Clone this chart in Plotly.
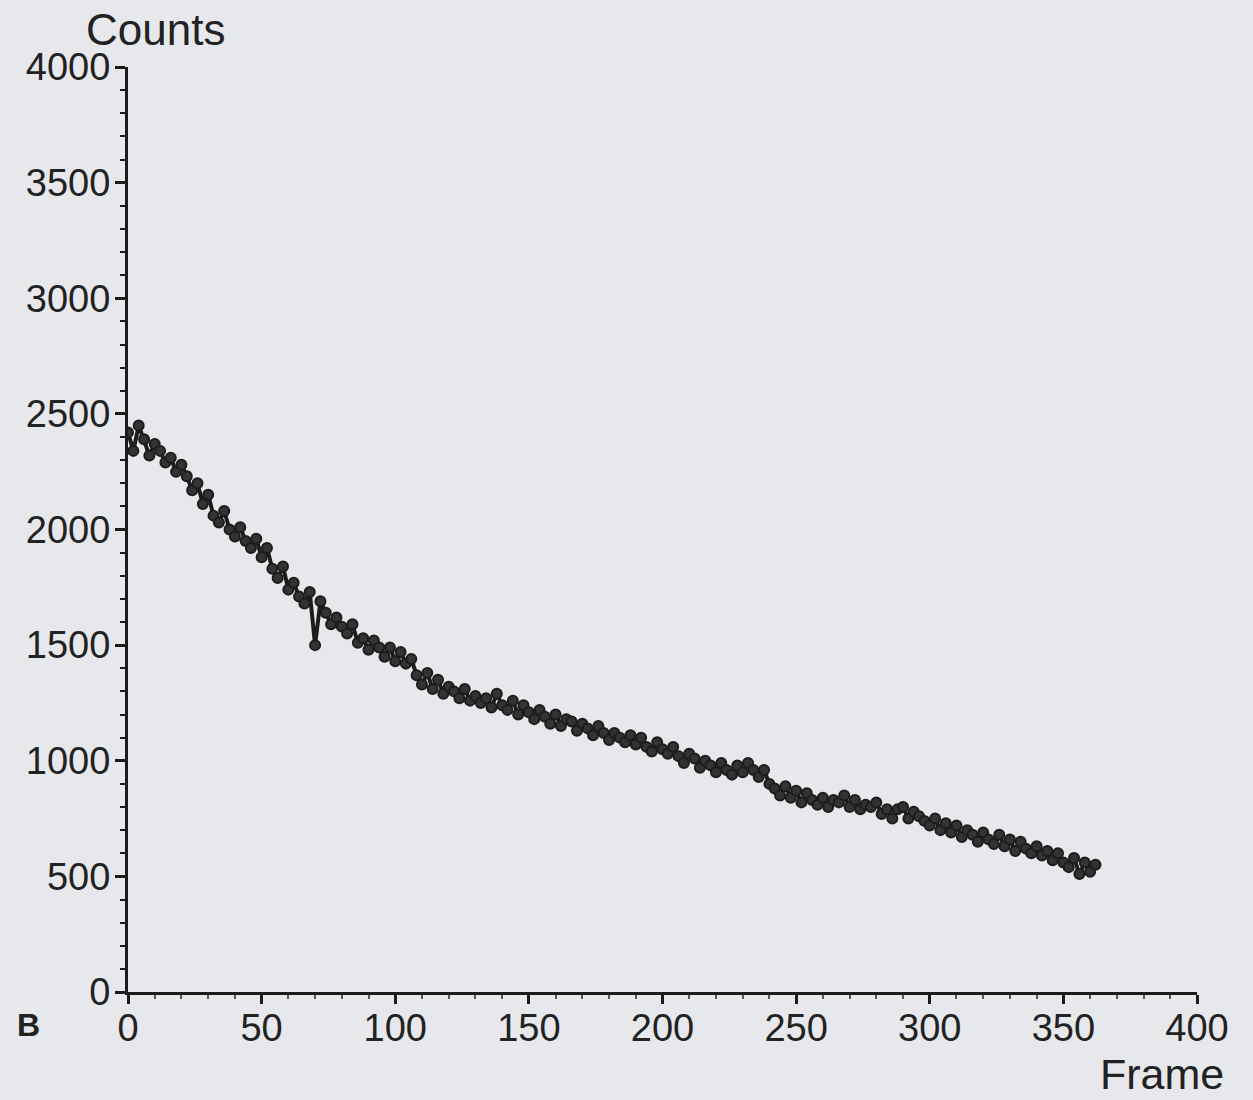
import plotly.graph_objects as go

frames = list(range(0, 364, 2))
counts = [
    2420, 2340, 2450, 2390, 2320, 2370, 2340, 2290, 2310, 2250,
    2280, 2230, 2170, 2200, 2110, 2150, 2060, 2030, 2080, 2000,
    1970, 2010, 1950, 1920, 1960, 1880, 1920, 1830, 1790, 1840,
    1740, 1770, 1710, 1680, 1730, 1500, 1690, 1640, 1590, 1620,
    1580, 1550, 1590, 1510, 1530, 1480, 1520, 1490, 1450, 1490,
    1430, 1470, 1420, 1440, 1370, 1330, 1380, 1310, 1350, 1290,
    1320, 1300, 1270, 1310, 1260, 1280, 1250, 1270, 1230, 1290,
    1240, 1220, 1260, 1200, 1240, 1210, 1180, 1220, 1190, 1160,
    1200, 1150, 1180, 1170, 1130, 1160, 1140, 1110, 1150, 1120,
    1090, 1120, 1100, 1080, 1110, 1070, 1100, 1060, 1040, 1080,
    1050, 1030, 1060, 1020, 990, 1030, 1010, 970, 1000, 980,
    950, 990, 960, 940, 980, 950, 990, 960, 930, 960,
    900, 880, 850, 890, 840, 870, 820, 860, 830, 810,
    840, 800, 830, 820, 850, 800, 830, 790, 810, 800,
    820, 770, 790, 750, 790, 800, 750, 780, 760, 740,
    720, 750, 700, 730, 690, 720, 670, 700, 680, 650,
    690, 660, 640, 680, 630, 660, 610, 650, 620, 600,
    630, 590, 610, 570, 600, 560, 540, 580, 510, 560,
    520, 550,
]

x_ticks = [0, 50, 100, 150, 200, 250, 300, 350, 400]
y_ticks = [0, 500, 1000, 1500, 2000, 2500, 3000, 3500, 4000]

BG = "#e6e8eb"
INK = "#1c1c1c"
FONT = "Liberation Sans, Arial, sans-serif"

fig = go.Figure()
fig.add_trace(go.Scatter(
    x=frames, y=counts, mode="lines+markers",
    line=dict(color=INK, width=4),
    marker=dict(color="#333333", size=10, line=dict(color=INK, width=2)),
    showlegend=False,
))

fig.update_layout(
    width=1253, height=1100,
    margin=dict(l=128, r=56, t=67, b=108),
    paper_bgcolor=BG, plot_bgcolor=BG,
    font=dict(family=FONT, size=40, color="#222222"),
    xaxis=dict(
        range=[0, 400], tickvals=x_ticks, showgrid=False, zeroline=False,
        showline=True, linecolor=INK, linewidth=3,
        ticks="outside", ticklen=9, tickwidth=3, tickcolor=INK,
        minor=dict(dtick=10, ticks="outside", ticklen=4, tickwidth=2, tickcolor="#555555"),
        tickfont=dict(size=38, family=FONT, color="#222222"),
        ticklabelstandoff=-9,
    ),
    yaxis=dict(
        range=[0, 4000], tickvals=y_ticks, showgrid=False, zeroline=False,
        showline=True, linecolor=INK, linewidth=3,
        ticks="outside", ticklen=10, tickwidth=3, tickcolor=INK,
        minor=dict(dtick=100, ticks="outside", ticklen=5, tickwidth=2, tickcolor=INK),
        tickfont=dict(size=38, family=FONT, color="#222222"),
        ticklabelstandoff=-3,
    ),
    annotations=[
        dict(text="Counts", xref="paper", yref="paper",
             x=(155 - 128) / 1069, y=(992 - 30) / 925,
             xanchor="center", yanchor="middle", showarrow=False,
             font=dict(size=44, family=FONT, color="#222222")),
        dict(text="Frame", xref="paper", yref="paper",
             x=(1226 - 128) / 1069, y=(992 - 1074) / 925,
             xanchor="right", yanchor="middle", showarrow=False,
             font=dict(size=43, family=FONT, color="#222222")),
        dict(text="<b>B</b>", xref="paper", yref="paper",
             x=(28 - 128) / 1069, y=(992 - 1025) / 925,
             xanchor="center", yanchor="middle", showarrow=False,
             font=dict(size=32, family=FONT, color="#222222")),
    ],
)

fig.write_html("out.html")
